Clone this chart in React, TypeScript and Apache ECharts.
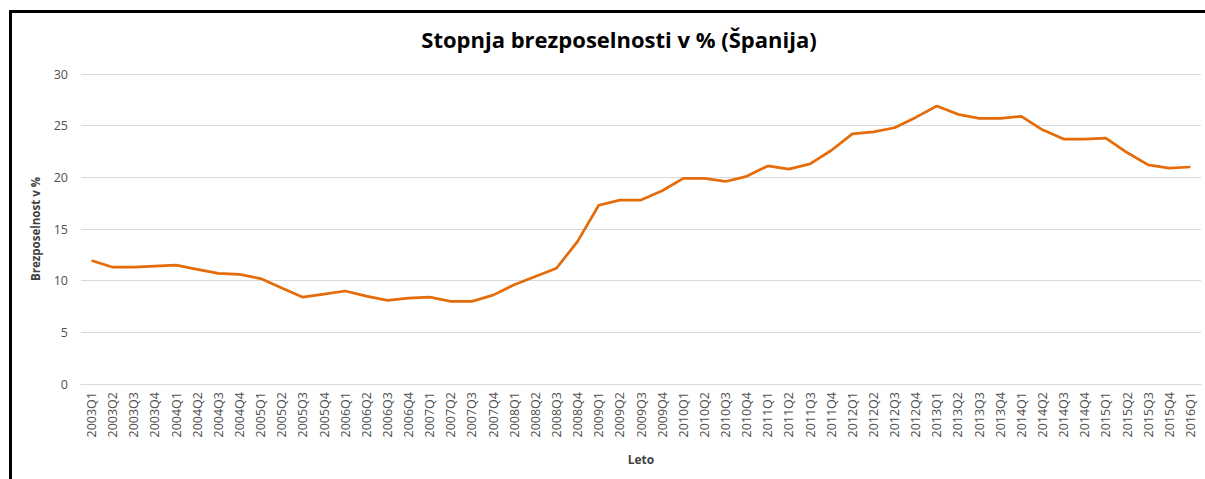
import React, { useEffect, useRef } from "react";
import * as echarts from "echarts";

const categories: string[] = [
  "2003Q1", "2003Q2", "2003Q3", "2003Q4",
  "2004Q1", "2004Q2", "2004Q3", "2004Q4",
  "2005Q1", "2005Q2", "2005Q3", "2005Q4",
  "2006Q1", "2006Q2", "2006Q3", "2006Q4",
  "2007Q1", "2007Q2", "2007Q3", "2007Q4",
  "2008Q1", "2008Q2", "2008Q3", "2008Q4",
  "2009Q1", "2009Q2", "2009Q3", "2009Q4",
  "2010Q1", "2010Q2", "2010Q3", "2010Q4",
  "2011Q1", "2011Q2", "2011Q3", "2011Q4",
  "2012Q1", "2012Q2", "2012Q3", "2012Q4",
  "2013Q1", "2013Q2", "2013Q3", "2013Q4",
  "2014Q1", "2014Q2", "2014Q3", "2014Q4",
  "2015Q1", "2015Q2", "2015Q3", "2015Q4",
  "2016Q1",
];

const unemployment: number[] = [
  11.95, 11.3, 11.3, 11.4,
  11.5, 11.1, 10.7, 10.6,
  10.2, 9.3, 8.4, 8.7,
  9.0, 8.5, 8.1, 8.3,
  8.4, 8.0, 8.0, 8.6,
  9.6, 10.4, 11.2, 13.8,
  17.3, 17.8, 17.8, 18.7,
  19.9, 19.9, 19.6, 20.1,
  21.1, 20.8, 21.3, 22.6,
  24.2, 24.4, 24.8, 25.8,
  26.9, 26.1, 25.7, 25.7,
  25.9, 24.6, 23.7, 23.7,
  23.8, 22.4, 21.2, 20.9,
  21.0,
];

const titleText = "Stopnja brezposelnosti v % (Španija)";
const yAxisName = "Brezposelnost v %";
const xAxisName = "Leto";

const FONT = "'Open Sans', 'Noto Sans', sans-serif";

export default function App() {
  const ref = useRef<HTMLDivElement>(null);

  useEffect(() => {
    if (!ref.current) return;
    const chart = echarts.init(ref.current, undefined, { renderer: "svg" });
    chart.setOption({
      animation: false,
      backgroundColor: "#ffffff",
      title: {
        text: titleText,
        left: 614,
        textAlign: "center",
        top: 23,
        textStyle: {
          fontFamily: FONT,
          fontSize: 22,
          fontWeight: "bold",
          color: "#000000",
        },
      },
      grid: {
        left: 81,
        right: 4,
        top: 74,
        bottom: 95,
        containLabel: false,
      },
      xAxis: {
        type: "category",
        data: categories,
        boundaryGap: true,
        name: xAxisName,
        nameLocation: "middle",
        nameGap: 69,
        nameTextStyle: {
          fontFamily: FONT,
          fontSize: 12,
          fontWeight: "bold",
          color: "#404040",
        },
        axisLine: { show: true, lineStyle: { color: "#d9d9d9", width: 1 } },
        axisTick: { show: false },
        axisLabel: {
          interval: 0,
          rotate: 90,
          margin: 8,
          fontFamily: FONT,
          fontSize: 12.5,
          color: "#505050",
        },
        splitLine: { show: false },
      },
      yAxis: {
        type: "value",
        min: 0,
        max: 30,
        interval: 5,
        name: yAxisName,
        nameLocation: "middle",
        nameGap: 40,
        nameTextStyle: {
          fontFamily: FONT,
          fontSize: 11.5,
          fontWeight: "bold",
          color: "#404040",
        },
        axisLine: { show: false },
        axisTick: { show: false },
        axisLabel: {
          margin: 13,
          fontFamily: FONT,
          fontSize: 12.5,
          color: "#505050",
        },
        splitLine: { show: true, lineStyle: { color: "#d9d9d9", width: 1 } },
      },
      series: [
        {
          type: "line",
          data: unemployment,
          showSymbol: false,
          symbol: "none",
          lineStyle: { color: "#E46C0A", width: 2.75 },
          itemStyle: { color: "#E46C0A" },
        },
      ],
      graphic: [
        {
          type: "line",
          shape: { x1: 9, y1: 11.5, x2: 1205, y2: 11.5 },
          style: { stroke: "#000000", lineWidth: 3 },
          silent: true,
        },
        {
          type: "line",
          shape: { x1: 10.5, y1: 10, x2: 10.5, y2: 479 },
          style: { stroke: "#000000", lineWidth: 3 },
          silent: true,
        },
      ],
    });
    return () => {
      chart.dispose();
    };
  }, []);

  return (
    <div
      ref={ref}
      style={{ position: "fixed", left: 0, top: 0, width: 1205, height: 479 }}
    />
  );
}
